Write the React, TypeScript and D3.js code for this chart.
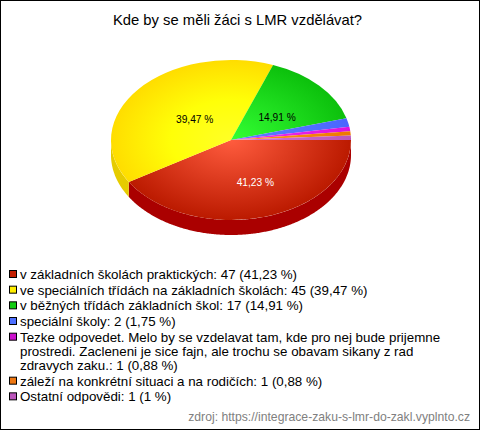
import React from 'react';
import * as d3 from 'd3';

const title = 'Kde by se měli žáci s LMR vzdělávat?';
const source = 'zdroj: https://integrace-zaku-s-lmr-do-zakl.vyplnto.cz';

const values = [47, 45, 17, 2, 1, 1, 1];
const percents = ['41,23 %', '39,47 %', '14,91 %', '1,75 %', '0,88 %', '0,88 %', '1 %'];
const legendLines = [
  ['v základních školách praktických: 47 (41,23 %)'],
  ['ve speciálních třídách na základních školách: 45 (39,47 %)'],
  ['v běžných třídách základních škol: 17 (14,91 %)'],
  ['speciální školy: 2 (1,75 %)'],
  [
    'Tezke odpovedet. Melo by se vzdelavat tam, kde pro nej bude prijemne',
    'prostredi. Zacleneni je sice fajn, ale trochu se obavam sikany z rad',
    'zdravych zaku.: 1 (0,88 %)',
  ],
  ['záleží na konkrétní situaci a na rodičích: 1 (0,88 %)'],
  ['Ostatní odpovědi: 1 (1 %)'],
];
const innerColors = ['#ff5c3e', '#ffff26', '#33ff33', '#5c80ff', '#ee33ee', '#ff9922', '#d877d8'];
const midColors = ['#dd3b1f', '#ffff08', '#20e020', '#5373ff', '#e622e6', '#f78811', '#ca66ca'];
const outerColors = ['#bb1a00', '#ffdd00', '#0cc00c', '#4a66ff', '#dd11dd', '#ee7700', '#bb55bb'];
const wallColors = ['#aa0000', '#e6cc00', '#009900', '#3344cc', '#aa00aa', '#cc6600', '#995599'];
const swatchColors = ['#c41f00', '#ffee00', '#11cc11', '#4d6fff', '#cc11cc', '#ee7711', '#bb55bb'];
const labelColors = ['#ffffff', '#000000', '#000000'];
const labelNudgeX = [8, 10, 2];

const width = 480;
const height = 430;
const cx = 231;
const cy = 140;
const rx = 120;
const ry = 80;
const depth = 15;
const font = '"Liberation Sans", Arial, sans-serif';

const slices = d3
  .pie<number>()
  .sort(null)
  .startAngle(Math.PI / 2)
  .endAngle(Math.PI / 2 + 2 * Math.PI)(values);

const arc = d3.arc<d3.PieArcDatum<number>>().innerRadius(0).outerRadius(rx);

// side of the pie, only the part facing the viewer
const wall = d3
  .area<number>()
  .x((a) => cx + rx * Math.sin(a))
  .y0((a) => cy - ry * Math.cos(a))
  .y1((a) => cy - ry * Math.cos(a) + depth);

const wallPath = (s: d3.PieArcDatum<number>) => {
  const from = Math.max(s.startAngle, Math.PI / 2);
  const to = Math.min(s.endAngle, (3 * Math.PI) / 2);
  if (to <= from) return null;
  return wall([...d3.range(from, to, 0.01), to]);
};

const App: React.FC = () => {
  let rowY = 279;
  return (
    <svg
      width={width}
      height={height}
      style={{ position: 'absolute', left: 0, top: 0, background: '#fff' }}
      fontFamily={font}
    >
      <defs>
        {slices.map((s, i) => (
          <radialGradient key={i} id={`slice${i}`} gradientUnits="userSpaceOnUse" cx={0} cy={0} r={rx}>
            <stop offset="0%" stopColor={innerColors[i]} />
            <stop offset="50%" stopColor={midColors[i]} />
            <stop offset="100%" stopColor={outerColors[i]} />
          </radialGradient>
        ))}
      </defs>
      <rect x={0.5} y={0.5} width={width - 1} height={height - 1} fill="#fff" stroke="#000" />
      <text x={237.5} y={25} textAnchor="middle" fontSize={14.8}>
        {title}
      </text>

      {slices.map((s, i) => {
        const d = wallPath(s);
        return d ? <path key={i} d={d} fill={wallColors[i]} /> : null;
      })}
      <g transform={`translate(${cx},${cy}) scale(1,${ry / rx})`}>
        {slices.map((s, i) => (
          <path key={i} d={arc(s) ?? ''} fill={`url(#slice${i})`} />
        ))}
      </g>
      {slices.slice(0, 3).map((s, i) => {
        const [x, y] = arc.centroid(s);
        return (
          <text
            key={i}
            x={cx + x + labelNudgeX[i]}
            y={cy + (y * ry) / rx + 8}
            textAnchor="middle"
            fontSize={10.2}
            fill={labelColors[i]}
          >
            {percents[i]}
          </text>
        );
      })}

      {legendLines.map((lines, i) => {
        const y0 = rowY;
        rowY += lines.length > 1 ? 44 : 15.67;
        return (
          <g key={i}>
            <rect x={9.5} y={y0 - 8.5} width={7} height={7} fill={swatchColors[i]} stroke="#000" />
            {lines.map((line, j) => (
              <text key={j} x={20} y={y0 + j * 14} fontSize={13.33}>
                {line}
              </text>
            ))}
          </g>
        );
      })}

      <text x={470} y={421} textAnchor="end" fontSize={12.2} fill="#808080">
        {source}
      </text>
    </svg>
  );
};

export default App;
